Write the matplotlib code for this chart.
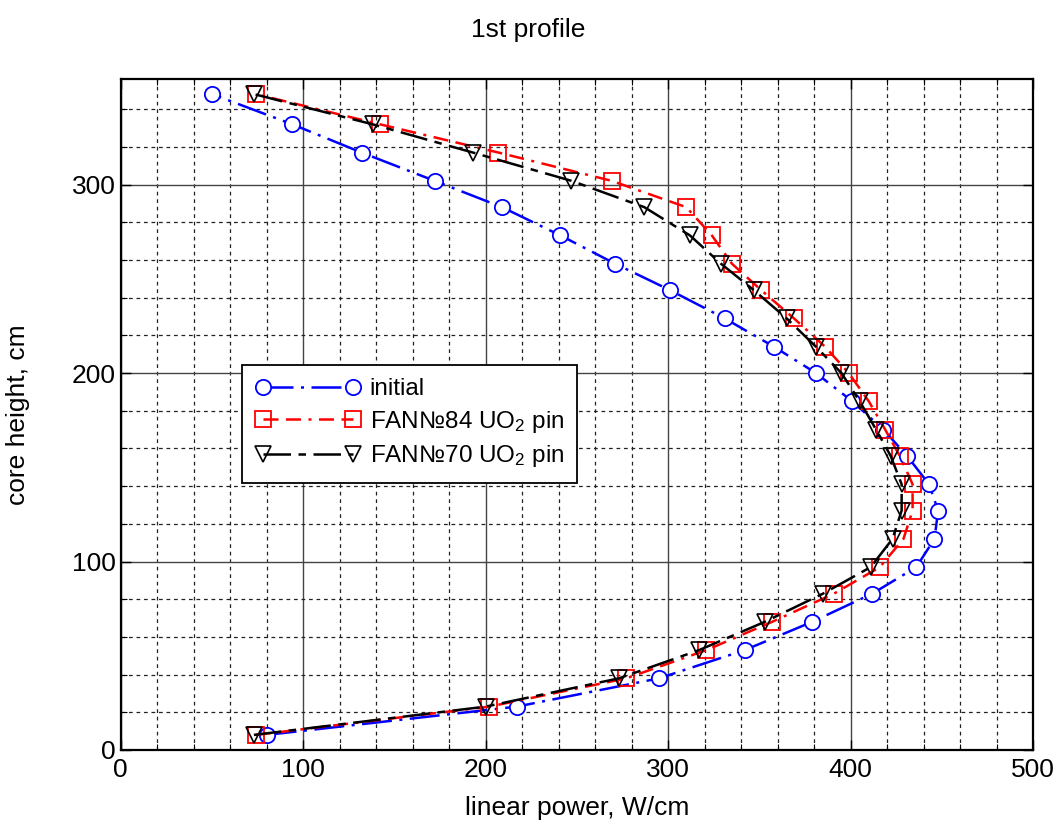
import matplotlib.pyplot as plt
from matplotlib.ticker import MultipleLocator

plt.rcParams['font.family'] = ['Liberation Sans', 'DejaVu Sans']
plt.rcParams['mathtext.fontset'] = 'custom'
plt.rcParams['mathtext.rm'] = 'Liberation Sans'
plt.rcParams['mathtext.it'] = 'Liberation Sans:italic'

# core height, cm
height = [8, 23, 38, 53, 68, 83, 97, 112, 127, 141, 156, 170,
          185, 200, 214, 229, 244, 258, 273, 288, 302, 317, 332, 348]

# linear power, W/cm
initial = [80, 217, 295, 342, 379, 412, 436, 446, 448, 443, 431, 418,
           401, 381, 358, 331, 301, 271, 241, 209, 172, 132, 94, 50]
fan84 = [74, 202, 277, 321, 357, 391, 416, 429, 434, 434, 427, 419,
         410, 399, 386, 369, 351, 335, 324, 310, 269, 207, 142, 74]
fan70 = [73, 200, 273, 317, 353, 385, 411, 423, 428, 428, 422, 414,
         405, 395, 381, 365, 347, 329, 312, 287, 247, 193, 138, 73]

fig = plt.figure(figsize=(10.57, 8.39), dpi=100)
ax = fig.add_axes([0.1142, 0.1061, 0.8631, 0.7997])

ax.plot(initial, height, color='#0000ff', lw=1.8, dashes=(12, 3, 1.2, 3),
        marker='o', ms=11, mfc='white', mec='#0000ff', mew=1.3, label='initial')
ax.plot(fan84, height, color='#ff0000', lw=1.8, dashes=(6, 3, 6, 3, 1.2, 3),
        marker='s', ms=11, mfc='none', mec='#ff0000', mew=1.3,
        label='FAN№84 UO$_2$ pin')
ax.plot(fan70, height, color='black', lw=1.8, dashes=(11, 3, 3, 3),
        marker='v', ms=11, mfc='none', mec='black', mew=1.2,
        label='FAN№70 UO$_2$ pin')

ax.set_xlim(0, 500)
ax.set_ylim(0, 356)
ax.xaxis.set_major_locator(MultipleLocator(100))
ax.xaxis.set_minor_locator(MultipleLocator(20))
ax.yaxis.set_major_locator(MultipleLocator(100))
ax.yaxis.set_minor_locator(MultipleLocator(20))

ax.grid(which='major', color='#444444', linestyle='-', linewidth=1.0)
ax.grid(which='minor', color='#222222', linestyle=(0, (3, 3)), linewidth=0.9)
ax.set_axisbelow(True)

ax.tick_params(which='both', direction='in', top=True, right=True, labelsize=19)
ax.tick_params(which='major', length=7, width=1)
ax.tick_params(which='minor', length=4, width=0.8)
ax.tick_params(axis='x', pad=6)
for s in ax.spines.values():
    s.set_linewidth(1.6)

ax.set_xlabel('linear power, W/cm', fontsize=19, labelpad=2)
ax.set_ylabel('core height, cm', fontsize=19, labelpad=30)
ax.xaxis.set_label_coords(0.5, -0.068)
fig.suptitle('1st profile', fontsize=19, y=0.978)

leg = ax.legend(loc='upper left', bbox_to_anchor=(0.133, 0.574), numpoints=2,
                fontsize=17.5, fancybox=False, edgecolor='black', framealpha=1,
                handlelength=4.3, borderpad=0.55, labelspacing=0.35,
                handletextpad=0.4, borderaxespad=0)
leg.get_frame().set_linewidth(1.3)

fig.savefig('out.png', dpi=100)
